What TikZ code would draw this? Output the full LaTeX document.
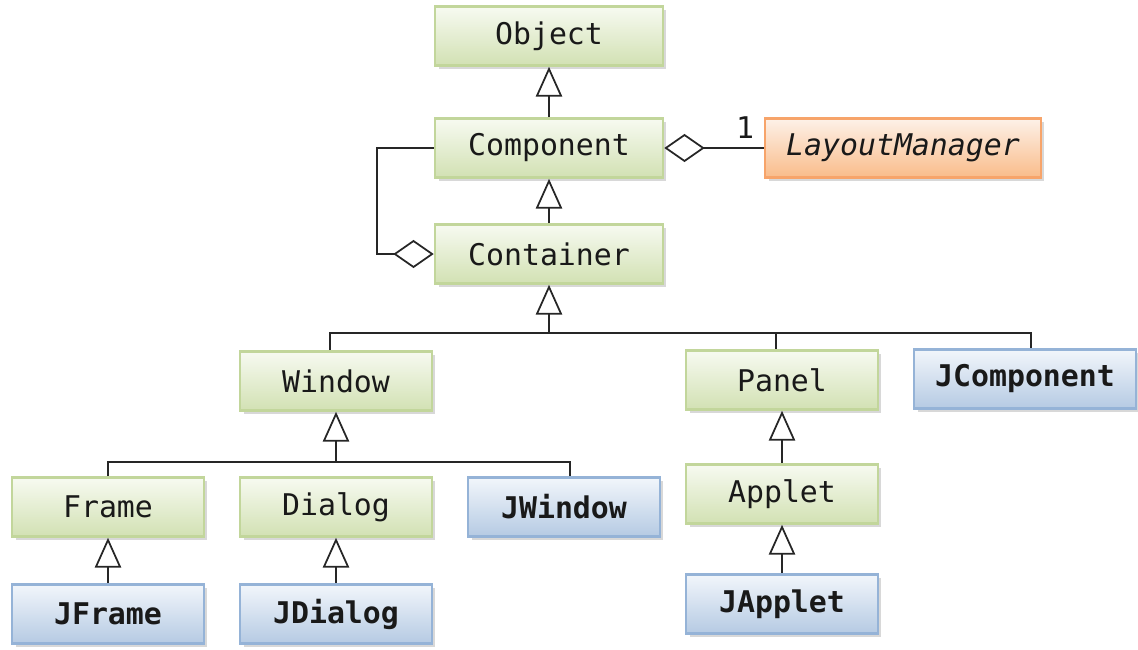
\documentclass[tikz,border=0pt]{standalone}
\usepackage{fontspec}
\setmonofont{DejaVu Sans Mono}
\usetikzlibrary{arrows.meta,shadows}
\definecolor{gTop}{HTML}{F7FAF1}
\definecolor{gBot}{HTML}{D2E1B3}
\definecolor{gLine}{HTML}{C2D69B}
\definecolor{bTop}{HTML}{F2F6FB}
\definecolor{bBot}{HTML}{B5CAE3}
\definecolor{bLine}{HTML}{95B3D7}
\definecolor{oTop}{HTML}{FDF1E8}
\definecolor{oBot}{HTML}{F9BC8A}
\definecolor{oLine}{HTML}{F7A46A}
\begin{document}
\begin{tikzpicture}[x=0.02cm,y=-0.02cm,
  box/.style={rectangle, draw, line width=1.5pt, inner sep=0pt, minimum height=1.18cm,
    font=\ttfamily\fontsize{17}{19}\selectfont, text=black!90,
    drop shadow={shadow xshift=0.07cm, shadow yshift=-0.07cm, fill=black!30}},
  gbox/.style={box, draw=gLine, top color=gTop, bottom color=gBot},
  bbox/.style={box, draw=bLine, top color=bTop, bottom color=bBot, font=\ttfamily\bfseries\fontsize{17}{19}\selectfont},
  obox/.style={box, draw=oLine, top color=oTop, bottom color=oBot, font=\ttfamily\itshape\fontsize{17}{19}\selectfont},
  conn/.style={line width=1pt, black!85},
  inh/.style={conn, -{Triangle[open, length=17pt, width=15pt]}},
  agg/.style={conn, -{Diamond[open, length=23pt, width=16pt]}}
]
\useasboundingbox (0,0) rectangle (1138,649);
% nodes
\node[gbox, minimum width=4.56cm] (obj) at (549,36) {Object};
\node[gbox, minimum width=4.56cm] (comp) at (549,148) {Component};
\node[gbox, minimum width=4.56cm] (cont) at (549,254) {Container};
\node[obox, minimum width=5.52cm] (lm) at (903,148) {LayoutManager};
\node[gbox, minimum width=3.84cm] (win) at (336,381) {Window};
\node[gbox, minimum width=3.84cm] (panel) at (782,380) {Panel};
\node[bbox, minimum width=4.44cm] (jcomp) at (1025,379) {JComponent};
\node[gbox, minimum width=3.84cm] (frame) at (108,507) {Frame};
\node[gbox, minimum width=3.84cm] (dialog) at (336,507) {Dialog};
\node[bbox, minimum width=3.84cm] (jwin) at (564,507) {JWindow};
\node[gbox, minimum width=3.84cm] (applet) at (782,494) {Applet};
\node[bbox, minimum width=3.84cm] (jframe) at (108,614) {JFrame};
\node[bbox, minimum width=3.84cm] (jdialog) at (336,614) {JDialog};
\node[bbox, minimum width=3.84cm] (japplet) at (782,604) {JApplet};
\node[font=\ttfamily\fontsize{17}{19}\selectfont, text=black!90] (one) at (745,128) {1};
% connectors
\draw[inh] (comp) -- (obj);
\draw[inh] (cont) -- (comp);
\draw[agg] (lm.west) -- (comp.east);
\draw[agg] (comp.west) -- ++(-1.14cm,0) |- (cont.west);
\coordinate (bc) at (549,333);
\draw[inh] (bc) -- (cont.south);
\draw[conn] ([xshift=-0.12cm]win.north) |- (bc) -| ([xshift=-0.12cm]panel.north);
\draw[conn] (bc) -| ([xshift=0.12cm]jcomp.north);
\coordinate (bw) at (336,462);
\draw[inh] (bw) -- (win.south);
\draw[conn] (frame.north) |- (bw) -| ([xshift=0.12cm]jwin.north);
\draw[inh] (jframe) -- (frame);
\draw[inh] (jdialog) -- (dialog);
\draw[inh] (applet) -- (panel);
\draw[inh] (japplet) -- (applet);
\end{tikzpicture}
\end{document}
